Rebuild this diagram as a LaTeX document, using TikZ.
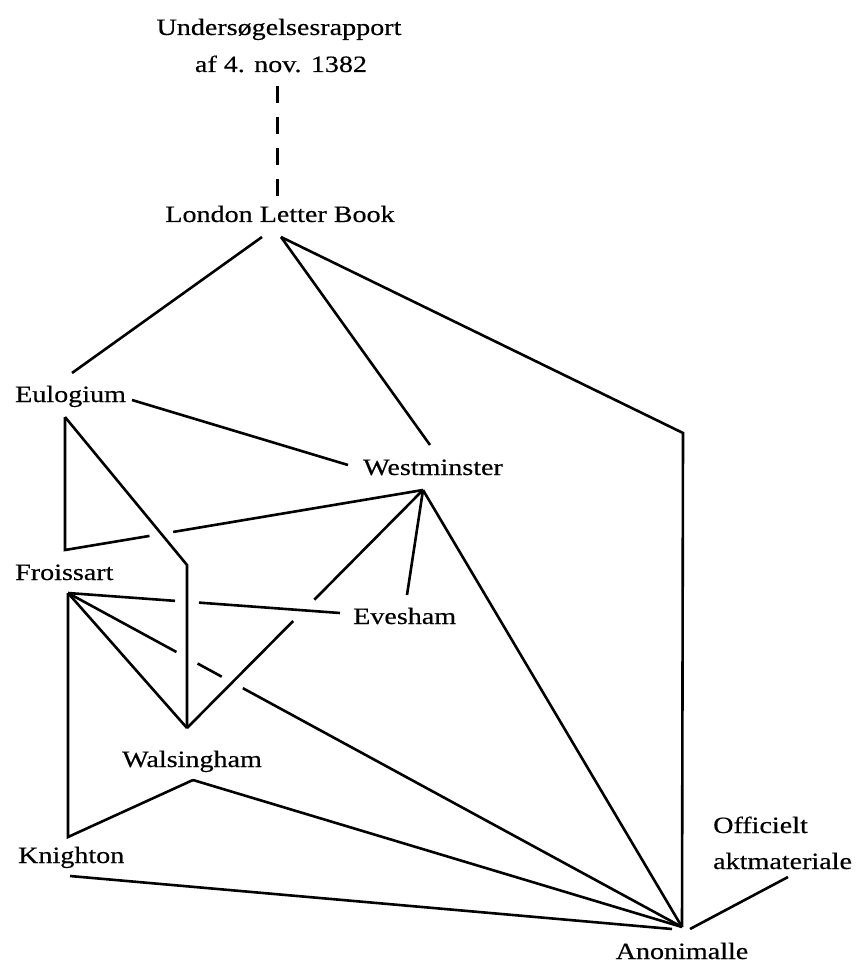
\documentclass[tikz,border=0pt]{standalone}
\usepackage{fontspec}
\setmainfont{Liberation Serif}[FakeStretch=1.2,FakeBold=0.4]
\usetikzlibrary{calc}
\begin{document}
\begin{tikzpicture}[x=1pt,y=-1pt,
  lbl/.style={inner sep=0pt, font=\fontsize{23.4}{28}\selectfont},
  con/.style={line width=2.6pt, line join=miter},
  dashline/.style={line width=3pt, dash pattern=on 17pt off 14pt}]
\useasboundingbox[fill=white] (0,0) rectangle (857,965);
% labels
\node[lbl, anchor=base] (und) at (279,35) {Undersøgelsesrapport};
\node[lbl, anchor=base] (af) at (281,72) {af 4. nov. 1382};
\node[lbl, anchor=base] (llb) at (280,222) {London Letter Book};
\node[lbl, anchor=base west] (eu) at (15,402) {Eulogium};
\node[lbl, anchor=base west] (we) at (363,475) {Westminster};
\node[lbl, anchor=base west] (fr) at (15,580) {Froissart};
\node[lbl, anchor=base west] (ev) at (353,624) {Evesham};
\node[lbl, anchor=base west] (wa) at (122,767) {Walsingham};
\node[lbl, anchor=base west] (kn) at (18,863) {Knighton};
\node[lbl, anchor=base west] (ofa) at (713,833) {Officielt};
\node[lbl, anchor=base west] (ofb) at (713,869) {aktmateriale};
\node[lbl, anchor=base] (an) at (682,959) {Anonimalle};
% connection points
\coordinate (dtop) at (277,86);
\coordinate (dbot) at (277,196);
\coordinate (llbl) at (262,237);
\coordinate (llbr) at (281,237);
\coordinate (eua) at (72,373);
\coordinate (eur) at (132,400);
\coordinate (eub) at (65,417);
\coordinate (euc) at (65,550);
\coordinate (frp) at (68,593);
\coordinate (frc) at (68,837);
\coordinate (wet) at (430,445);
\coordinate (wel) at (348,465);
\coordinate (web) at (423,490);
\coordinate (evt) at (407,595);
\coordinate (evl) at (340,613);
\coordinate (wabend) at (187,565);
\coordinate (wap) at (187,728);
\coordinate (wat) at (193,780);
\coordinate (knp) at (70,876);
\coordinate (knend) at (672,929);
\coordinate (anc) at (683,433);
\coordinate (anp) at (682,927);
\coordinate (anr) at (690,929);
\coordinate (ofp) at (788,877);
% crossings
\coordinate (xa) at (intersection of euc--web and eub--wabend);
\coordinate (xb) at (intersection of frp--evl and wabend--wap);
\coordinate (xc) at (intersection of frp--anp and wabend--wap);
\coordinate (xd) at (intersection of frp--anp and wap--web);
\coordinate (xe) at (intersection of frp--evl and wap--web);
% connectors
\draw[dashline] (dtop) -- (dbot);
\draw[con] (llbl) -- (eua);
\draw[con] (llbr) -- (wet);
\draw[con] (llbr) -- (anc) -- (anp);
\draw[con] (eur) -- (wel);
\draw[con] (eub) -- (wabend) -- (wap);
\draw[con] (eub) -- (euc) -- ($(xa)!12pt!(euc)$);
\draw[con] ($(xa)!12pt!(web)$) -- (web);
\draw[con] (frp) -- ($(xb)!12pt!(frp)$);
\draw[con] ($(xb)!12pt!(evl)$) -- (evl);
\draw[con] (frp) -- ($(xc)!12pt!(frp)$);
\draw[con] ($(xc)!12pt!(anp)$) -- ($(xd)!12pt!(frp)$);
\draw[con] ($(xd)!12pt!(anp)$) -- (anp);
\draw[con] (wap) -- ($(xe)!15pt!(wap)$);
\draw[con] ($(xe)!15pt!(web)$) -- (web);
\draw[con] (frp) -- (wap);
\draw[con] (frp) -- (frc) -- (wat);
\draw[con] (wat) -- (anp);
\draw[con] (knp) -- (knend);
\draw[con] (web) -- (evt);
\draw[con] (web) -- (anp);
\draw[con] (anr) -- (ofp);
\end{tikzpicture}
\end{document}
